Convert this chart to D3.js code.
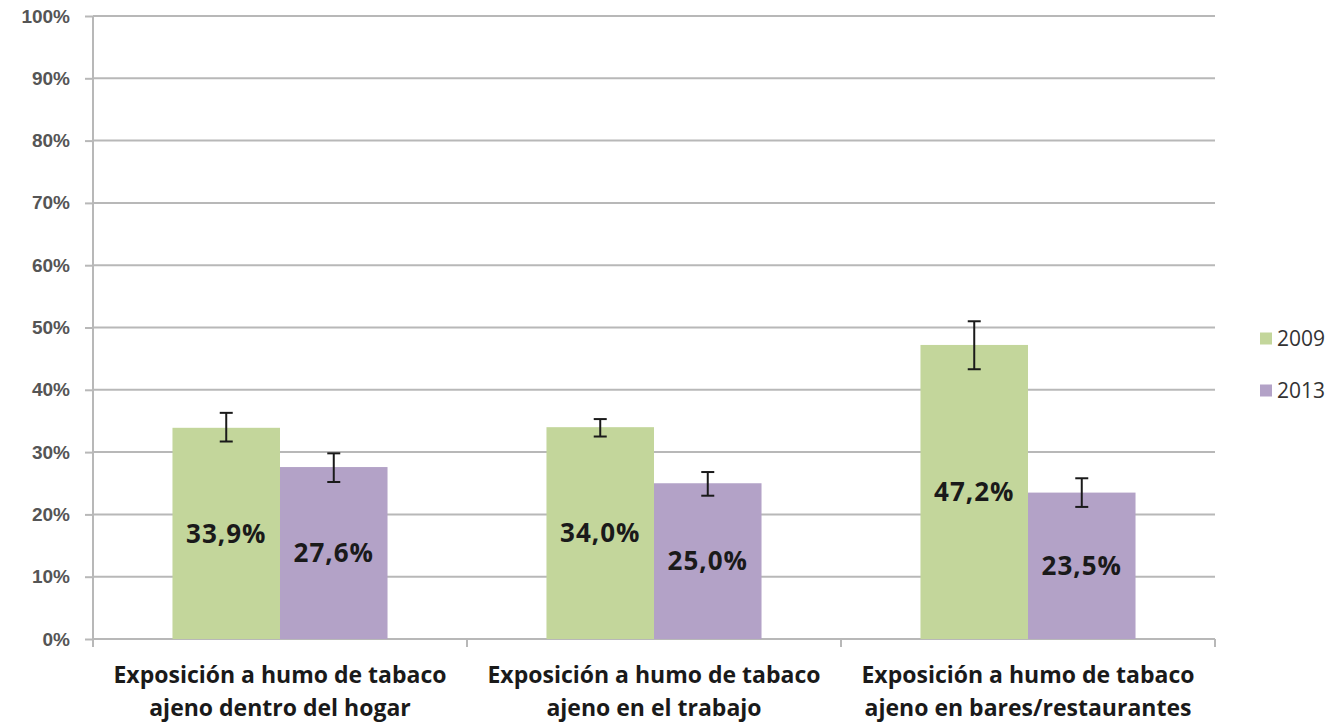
<!DOCTYPE html>
<html>
<head>
<meta charset="utf-8">
<script src="https://cdn.jsdelivr.net/npm/d3@7"></script>
<style>
  body { margin: 0; background: #fff; }
  svg { display: block; font-family: "Open Sans", "Noto Sans", sans-serif; }
</style>
</head>
<body>
<div class="main"></div>
<script>
const categories = [
  ["Exposición a humo de tabaco", "ajeno dentro del hogar"],
  ["Exposición a humo de tabaco", "ajeno en el trabajo"],
  ["Exposición a humo de tabaco", "ajeno en bares/restaurantes"],
];
const years = ["2009", "2013"];
const values2009 = [33.9, 34.0, 47.2];
const values2013 = [27.6, 25.0, 23.5];
const low2009 = [31.7, 32.5, 43.3];
const high2009 = [36.3, 35.3, 51.0];
const low2013 = [25.2, 23.0, 21.2];
const high2013 = [29.8, 26.8, 25.8];
const yTicks = [0, 10, 20, 30, 40, 50, 60, 70, 80, 90, 100];

let margin = { top: 16, right: 123, bottom: 85, left: 93 };
let fullwidth = 1338;
let fullheight = 724;
let width = fullwidth - margin.left - margin.right;
let height = fullheight - margin.top - margin.bottom;

const color = d3.scaleOrdinal().domain(years).range(["#c3d69b", "#b3a2c7"]);

const svg = d3
  .select(".main")
  .append("svg")
  .attr("width", fullwidth)
  .attr("height", fullheight)
  .append("g")
  .attr("transform", "translate(" + margin.left + "," + margin.top + ")");

const x = d3.scaleBand().domain(d3.range(categories.length)).range([0, width]);
const y = d3.scaleLinear().domain([0, 100]).range([height, 0]);

const groupWidth = x.bandwidth() * 0.575;
const xs = d3
  .scaleBand()
  .domain(years)
  .range([(x.bandwidth() - groupWidth) / 2, (x.bandwidth() + groupWidth) / 2]);

// gridlines
svg
  .append("g")
  .selectAll("line")
  .data(yTicks.filter((d) => d > 0))
  .join("line")
  .attr("x1", 0)
  .attr("x2", width)
  .attr("y1", (d) => y(d))
  .attr("y2", (d) => y(d))
  .attr("stroke", "#b8b8b8")
  .attr("stroke-width", 2);

// y axis
const yAxis = svg
  .append("g")
  .call(d3.axisLeft(y).tickValues(yTicks).tickSize(8).tickFormat((d) => d + "%"));
yAxis.select(".domain").attr("stroke", "#b8b8b8").attr("stroke-width", 2)
  .attr("d", "M0,0V" + (height + 7));
yAxis.selectAll(".tick line").attr("stroke", "#b8b8b8").attr("stroke-width", 2);
yAxis
  .selectAll(".tick text")
  .attr("x", -23)
  .attr("fill", "#555")
  .style("font-size", "19px")
  .style("font-weight", "bold");

// x axis
const xAxis = svg.append("g").attr("transform", "translate(0," + height + ")");
xAxis
  .append("line")
  .attr("x1", 0)
  .attr("x2", width)
  .attr("stroke", "#b8b8b8")
  .attr("stroke-width", 2);
xAxis
  .selectAll(".xt")
  .data(d3.range(categories.length + 1))
  .join("line")
  .attr("x1", (d) => d * x.step())
  .attr("x2", (d) => d * x.step())
  .attr("y1", 0)
  .attr("y2", 8)
  .attr("stroke", "#b8b8b8")
  .attr("stroke-width", 2);

const catText = xAxis
  .selectAll(".cat")
  .data(categories)
  .join("text")
  .attr("text-anchor", "middle")
  .attr("fill", "#1a1a1a")
  .style("font-size", "23px")
  .style("font-weight", "bold");
catText
  .selectAll("tspan")
  .data((d, i) => d.map((t) => ({ t: t, i: i })))
  .join("tspan")
  .attr("x", (d) => x(d.i) + x.bandwidth() / 2)
  .attr("y", (d, j) => 44 + j * 33)
  .text((d) => d.t);

// bars
const series = [
  { year: "2009", vals: values2009, lo: low2009, hi: high2009 },
  { year: "2013", vals: values2013, lo: low2013, hi: high2013 },
];

series.forEach((s) => {
  const g = svg.append("g");
  const items = s.vals.map((v, i) => ({ i: i, v: v, lo: s.lo[i], hi: s.hi[i] }));
  g.selectAll("rect")
    .data(items)
    .join("rect")
    .attr("x", (d) => x(d.i) + xs(s.year))
    .attr("width", xs.bandwidth())
    .attr("y", (d) => y(d.v))
    .attr("height", (d) => y(0) - y(d.v))
    .attr("fill", color(s.year));

  g.selectAll(".lbl")
    .data(items)
    .join("text")
    .attr("x", (d) => x(d.i) + xs(s.year) + xs.bandwidth() / 2)
    .attr("y", (d) => (y(d.v) + y(0)) / 2)
    .attr("dy", "0.36em")
    .attr("text-anchor", "middle")
    .attr("fill", "#1a1a1a")
    .style("font-size", "26px")
    .style("font-weight", "bold")
    .style("letter-spacing", "1px")
    .text((d) => d3.format(".1f")(d.v).replace(".", ",") + "%");

  const eb = g.selectAll(".eb").data(items).join("g")
    .attr("transform", (d) => "translate(" + (x(d.i) + xs(s.year) + xs.bandwidth() / 2) + ",0)");
  eb.append("line")
    .attr("y1", (d) => y(d.lo))
    .attr("y2", (d) => y(d.hi))
    .attr("stroke", "#1a1a1a")
    .attr("stroke-width", 2);
  eb.selectAll(".cap")
    .data((d) => [d.lo, d.hi])
    .join("line")
    .attr("x1", -6.5)
    .attr("x2", 6.5)
    .attr("y1", (d) => y(d))
    .attr("y2", (d) => y(d))
    .attr("stroke", "#1a1a1a")
    .attr("stroke-width", 2);
});

// legend
const legend = svg
  .append("g")
  .attr("transform", "translate(" + (width + 45) + "," + (y(50) + 11) + ")");
const li = legend
  .selectAll("g")
  .data(years)
  .join("g")
  .attr("transform", (d, i) => "translate(0," + i * 52 + ")");
li.append("rect")
  .attr("width", 12)
  .attr("height", 12)
  .attr("y", -6)
  .attr("fill", (d) => color(d));
li.append("text")
  .attr("x", 17)
  .attr("dy", "0.36em")
  .attr("fill", "#333")
  .style("font-size", "21px")
  .text((d) => d);
</script>
</body>
</html>
